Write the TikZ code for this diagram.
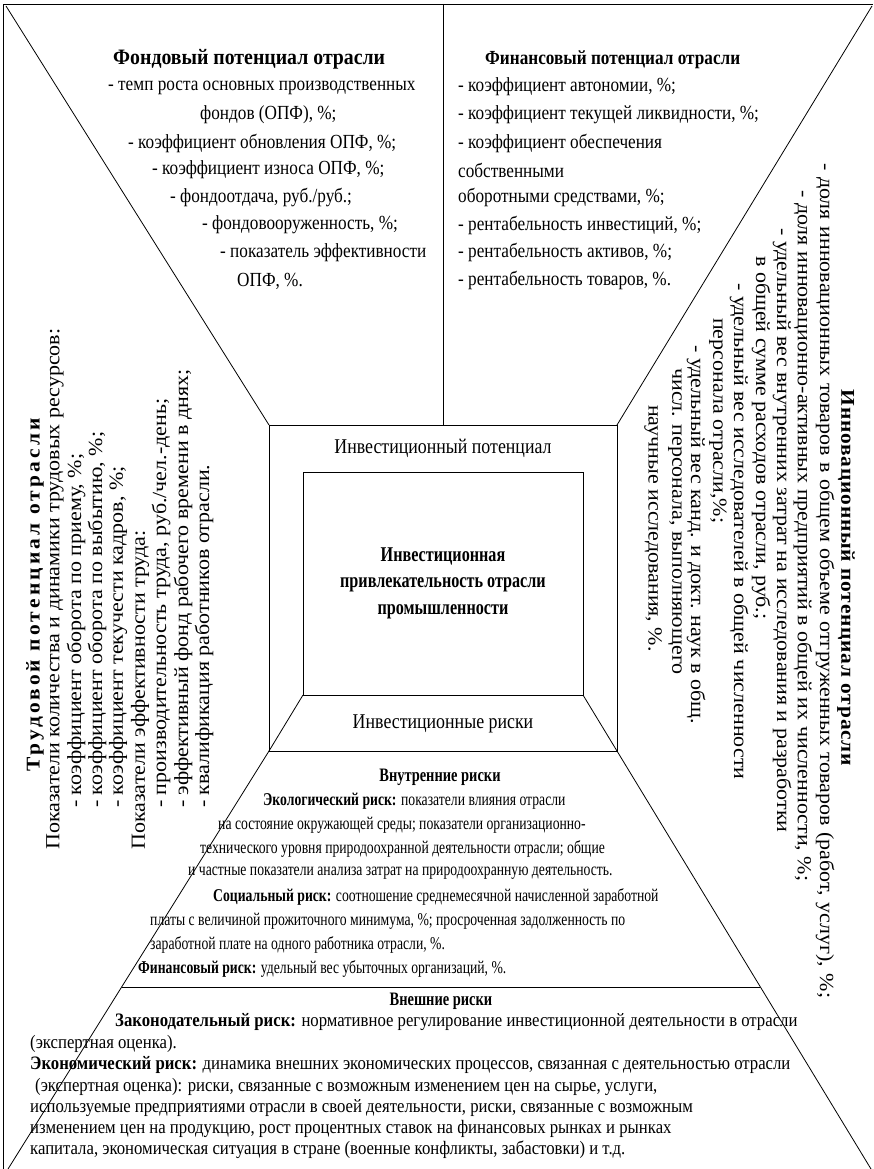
\documentclass[tikz,border=0pt]{standalone}
\usepackage{fontspec}
\setmainfont{Liberation Serif}
\newfontfamily\narf[FakeStretch=0.86]{Liberation Serif}
\newfontfamily\ttlf[FakeStretch=0.9]{Liberation Serif}
\newfontfamily\intf[FakeStretch=0.76]{Liberation Serif}
\newfontfamily\extf[FakeStretch=0.88]{Liberation Serif}
\newfontfamily\cenf[FakeStretch=0.85]{Liberation Serif}
\newfontfamily\cenbf[FakeStretch=0.77]{Liberation Serif}
\newfontfamily\widf[FakeStretch=1.1]{Liberation Serif}
\newfontfamily\widlf[FakeStretch=1.1,LetterSpace=16]{Liberation Serif}
\newfontfamily\widrf[FakeStretch=1.1,LetterSpace=4]{Liberation Serif}
\begin{document}
\begin{tikzpicture}[x=1pt,y=-1pt,
  ln/.style={line width=0.8pt},
  tx/.style={anchor=west,inner sep=0pt,font=\narf\fontsize{20}{24}\selectfont},
  txb/.style={tx,font=\narf\bfseries\fontsize{20}{24}\selectfont},
  txbl/.style={tx,font=\ttlf\bfseries\fontsize{22}{24}\selectfont},
  cen/.style={inner sep=0pt,font=\cenf\fontsize{21}{26}\selectfont},
  intr/.style={anchor=west,inner sep=0pt,font=\intf\fontsize{18}{22}\selectfont},
  extr/.style={anchor=west,inner sep=0pt,font=\extf\fontsize{19}{22}\selectfont},
  rl/.style={rotate=90,anchor=west,inner sep=0pt,font=\widf\fontsize{20}{21}\selectfont},
  rr/.style={rotate=-90,anchor=west,inner sep=0pt,font=\widf\fontsize{20}{21}\selectfont},
  rtl/.style={rotate=90,inner sep=0pt,font=\widlf\bfseries\fontsize{19.5}{21}\selectfont},
  rtr/.style={rotate=-90,inner sep=0pt,font=\widrf\bfseries\fontsize{19.5}{21}\selectfont}]
\useasboundingbox (0,0) rectangle (873,1169);
% key points
\coordinate (fTL) at (3,4);
\coordinate (fTR) at (873,4);
\coordinate (fBL) at (3,1169);
\coordinate (dTL) at (6,6);
\coordinate (dTR) at (872,6);
\coordinate (dBL) at (8,1169);
\coordinate (dBR) at (871,1169);
\coordinate (top) at (443,4);
\coordinate (sqTL) at (269,425);
\coordinate (sqTR) at (617,425);
\coordinate (sqBL) at (269,751);
\coordinate (sqBR) at (617,751);
\coordinate (inTL) at (303,472);
\coordinate (inBR) at (583,695);
\coordinate (inBL) at (303,695);
\coordinate (inTR) at (583,472);
\coordinate (sqT) at (443,425);
% frame and lines
\draw[ln] (fBL) -- (fTL) -- (fTR);
\draw[ln] (dTL) -- (sqTL);
\draw[ln] (dTR) -- (sqTR);
\draw[ln] (top) -- (sqT);
\draw[ln] (sqBL) -- (dBL);
\draw[ln] (sqBR) -- (dBR);
\draw[ln] (sqTL) rectangle (sqBR);
\draw[ln] (inTL) rectangle (inBR);
\draw[ln] (inBL) -- (sqBL);
\draw[ln] (inBR) -- (sqBR);
\path (sqBL) -- (dBL) coordinate[pos=0.5646] (hL);
\path (sqBR) -- (dBR) coordinate[pos=0.5646] (hR);
\draw[ln] (hL) -- (hR);
% top-left block
\node[txbl] (f0) at (113,59) {Фондовый потенциал отрасли};
\node[tx] (f1) at (108,88) {- темп роста основных производственных};
\node[tx] (f2) at (200,115) {фондов (ОПФ), \%;};
\node[tx] (f3) at (128,143) {- коэффициент обновления ОПФ, \%;};
\node[tx] (f4) at (152,170) {- коэффициент износа ОПФ, \%;};
\node[tx] (f5) at (170,198) {- фондоотдача, руб./руб.;};
\node[tx] (f6) at (202,225) {- фондовооруженность, \%;};
\node[tx] (f7) at (220,253) {- показатель эффективности};
\node[tx] (f8) at (237,281) {ОПФ, \%.};
% top-right block
\node[txb] (g0) at (485,60) {Финансовый потенциал отрасли};
\node[tx] (g1) at (458,87) {- коэффициент автономии, \%;};
\node[tx] (g2) at (458,115) {- коэффициент текущей ликвидности, \%;};
\node[tx] (g3) at (458,143) {- коэффициент обеспечения};
\node[tx] (g4) at (458,170) {собственными};
\node[tx] (g5) at (458,197) {оборотными средствами, \%;};
\node[tx] (g6) at (458,225) {- рентабельность инвестиций, \%;};
\node[tx] (g7) at (458,252) {- рентабельность активов, \%;};
\node[tx] (g8) at (458,280) {- рентабельность товаров, \%.};
% left column
\node[rtl] (l0) at (35,595) {Трудовой потенциал отрасли};
\node[rl] (l1) at (55,850) {Показатели количества и динамики трудовых ресурсов:};
\node[rl] (l2) at (76,808) {- коэффициент оборота по приему, \%;};
\node[rl] (l3) at (97,808) {- коэффициент оборота по выбытию, \%;};
\node[rl] (l4) at (118,808) {- коэффициент текучести кадров, \%;};
\node[rl] (l5) at (140,850) {Показатели эффективности труда:};
\node[rl] (l6) at (161,808) {- производительность труда, руб./чел.-день;};
\node[rl] (l7) at (183,808) {- эффективный фонд рабочего времени в днях;};
\node[rl] (l8) at (204,808) {- квалификация работников отрасли.};
% right column
\node[rtr] (r0) at (846,578) {Инновационный потенциал отрасли};
\node[rr] (r1) at (825,163) {\hbox to 835pt{- доля инновационных товаров в общем объеме отгруженных товаров (работ, услуг), \%;}};
\node[rr] (r2) at (803,190) {- доля инновационно-активных предприятий в общей их численности, \%;};
\node[rr] (r3) at (782,228) {- удельный вес внутренних затрат на исследования и разработки};
\node[rr] (r4) at (761,256) {в общей сумме расходов отрасли, руб.;};
\node[rr] (r5) at (739,283) {- удельный вес исследователей в общей численности};
\node[rr] (r6) at (718,318) {персонала отрасли,\%;};
\node[rr] (r7) at (696,345) {- удельный вес канд. и докт. наук в общ.};
\node[rr] (r8) at (675,368) {числ. персонала, выполняющего};
\node[rr] (r9) at (653,405) {научные исследования, \%.};
% centre
\node[cen] (c1) at (443,448) {Инвестиционный потенциал};
\node[cen,align=center,font=\cenbf\bfseries\fontsize{21}{26.5}\selectfont] (c2) at (443,583) {Инвестиционная\\привлекательность отрасли\\промышленности};
\node[cen] (c3) at (443,724) {Инвестиционные риски};
% internal risks
\node[intr,anchor=center,font=\intf\bfseries\fontsize{19}{22}\selectfont] (i0) at (440,777) {Внутренние риски};
\node[intr] (i1) at (263,801) {\textbf{Экологический риск:} показатели влияния отрасли};
\node[intr] (i2) at (218,825) {на состояние окружающей среды; показатели организационно-};
\node[intr] (i3) at (200,849) {технического уровня природоохранной деятельности отрасли; общие};
\node[intr] (i4) at (188,873) {и частные показатели анализа затрат на природоохранную деятельность.};
\node[intr] (i5) at (213,897) {\textbf{Социальный риск:} соотношение среднемесячной начисленной заработной};
\node[intr] (i6) at (150,921) {платы с величиной прожиточного минимума, \%; просроченная задолженность по};
\node[intr] (i7) at (150,945) {заработной плате на одного работника отрасли, \%.};
\node[intr] (i8) at (138,969) {\textbf{Финансовый риск:} удельный вес убыточных организаций, \%.};
% external risks
\node[extr,anchor=center,font=\intf\bfseries\fontsize{19}{22}\selectfont] (e0) at (441,1001) {Внешние риски};
\node[extr] (e1) at (115,1022) {\textbf{Законодательный риск:} нормативное регулирование инвестиционной деятельности в отрасли};
\node[extr] (e2) at (30,1044) {(экспертная оценка).};
\node[extr] (e3) at (30,1065) {\textbf{Экономический риск:} динамика внешних экономических процессов, связанная с деятельностью отрасли};
\node[extr] (e4) at (35,1087) {(экспертная оценка): риски, связанные с возможным изменением цен на сырье, услуги,};
\node[extr] (e5) at (30,1108) {используемые предприятиями отрасли в своей деятельности, риски, связанные с возможным};
\node[extr] (e6) at (30,1129) {изменением цен на продукцию, рост процентных ставок на финансовых рынках и рынках};
\node[extr] (e7) at (30,1150) {капитала, экономическая ситуация в стране (военные конфликты, забастовки) и т.д.};
\end{tikzpicture}
\end{document}
